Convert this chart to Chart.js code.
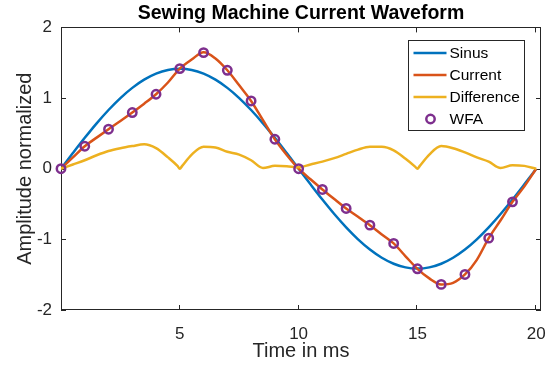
<!DOCTYPE html>
<html>
<head>
<title>Sewing Machine Current Waveform</title>
<script src="https://cdn.jsdelivr.net/npm/chart.js@4.4.0/dist/chart.umd.min.js"></script>
<style>
  html, body { margin: 0; padding: 0; background: #fff; }
</style>
</head>
<body>
<canvas id="waveChart" width="551" height="370"></canvas>
<script>
// time axis (ms), sampled every 0.5 ms
const timeMs = [0, 0.5, 1, 1.5, 2, 2.5, 3, 3.5, 4, 4.5, 5, 5.5, 6, 6.5, 7, 7.5, 8, 8.5, 9, 9.5,
                10, 10.5, 11, 11.5, 12, 12.5, 13, 13.5, 14, 14.5, 15, 15.5, 16, 16.5, 17, 17.5, 18, 18.5, 19, 19.5, 20];

const sinus = [0, 0.221, 0.437, 0.642, 0.831, 1.000, 1.144, 1.260, 1.345, 1.397, 1.414, 1.397, 1.345, 1.260, 1.144, 1.000, 0.831, 0.642, 0.437, 0.221,
               0, -0.221, -0.437, -0.642, -0.831, -1.000, -1.144, -1.260, -1.345, -1.397, -1.414, -1.397, -1.345, -1.260, -1.144, -1.000, -0.831, -0.642, -0.437, -0.221, 0];

const current = [0, 0.16, 0.318, 0.44, 0.559, 0.675, 0.795, 0.92, 1.054, 1.22, 1.417, 1.545, 1.648, 1.56, 1.393, 1.18, 0.959, 0.686, 0.417, 0.195,
                 0, -0.15, -0.294, -0.43, -0.563, -0.68, -0.799, -0.93, -1.058, -1.24, -1.417, -1.553, -1.638, -1.615, -1.497, -1.29, -0.983, -0.73, -0.469, -0.25, 0];

// difference curve, extra samples near the sharp minima
const diffTime = [0, 0.5, 1, 1.5, 2, 2.5, 3, 3.5, 4, 4.5, 4.9, 5, 5.1, 5.5, 6, 6.5, 7, 7.5, 8, 8.5, 9, 9.5,
                  10, 10.5, 11, 11.5, 12, 12.5, 13, 13.5, 14, 14.5, 14.9, 15, 15.1, 15.5, 16, 16.5, 17, 17.5, 18, 18.5, 19, 19.5, 20];
const difference = [0, 0.06, 0.12, 0.19, 0.25, 0.29, 0.32, 0.345, 0.29, 0.16, 0.04, 0, 0.04, 0.2, 0.31, 0.3, 0.24, 0.2, 0.12, 0.01, 0.04, 0.035,
                    0.02, 0.06, 0.1, 0.15, 0.21, 0.27, 0.31, 0.31, 0.26, 0.14, 0.03, 0, 0.04, 0.2, 0.32, 0.29, 0.23, 0.16, 0.1, 0.01, 0.05, 0.04, 0];

// WFA samples, one per ms
const wfaTime = [0, 1, 2, 3, 4, 5, 6, 7, 8, 9, 10, 11, 12, 13, 14, 15, 16, 17, 18, 19];
const wfa = [0, 0.318, 0.559, 0.795, 1.054, 1.417, 1.643, 1.393, 0.959, 0.417,
             0, -0.294, -0.563, -0.799, -1.058, -1.417, -1.638, -1.497, -0.983, -0.469];

const xTicks = [5, 10, 15, 20];
const yTicks = [-2, -1, 0, 1, 2];

const FONT = "'Liberation Sans', Arial, Helvetica, sans-serif";
const AXIS = '#262626';

function pts(xs, ys) {
    return xs.map((x, i) => ({ x: x, y: ys[i] }));
}

// box round the axes with inward tick marks on all four sides
const boxPlugin = {
    id: 'matlabBox',
    beforeDatasetsDraw(chart) {
        const { ctx, chartArea: a, scales } = chart;
        const tl = 5;
        ctx.save();
        ctx.strokeStyle = AXIS;
        ctx.lineWidth = 1;
        ctx.strokeRect(Math.round(a.left) + 0.5, Math.round(a.top) + 0.5,
                       Math.round(a.right) - Math.round(a.left) - 1, Math.round(a.bottom) - Math.round(a.top) - 1);
        ctx.beginPath();
        scales.x.ticks.forEach(t => {
            const px = Math.round(scales.x.getPixelForValue(t.value)) - 0.5;
            ctx.moveTo(px, a.bottom); ctx.lineTo(px, a.bottom - tl);
            ctx.moveTo(px, a.top); ctx.lineTo(px, a.top + tl);
        });
        scales.y.ticks.forEach(t => {
            const py = Math.round(scales.y.getPixelForValue(t.value)) + 0.5;
            ctx.moveTo(a.left, py); ctx.lineTo(a.left + tl, py);
            ctx.moveTo(a.right, py); ctx.lineTo(a.right - tl, py);
        });
        ctx.stroke();
        ctx.restore();
    }
};

// legend inside the plot, top right, with a frame
const legendPlugin = {
    id: 'insideLegend',
    afterDraw(chart) {
        const { ctx, chartArea: a } = chart;
        const w = 116, h = 90;
        const bx = Math.round(a.right) - 17 - w + 0.5;
        const by = Math.round(a.top) + 13 + 0.5;
        ctx.save();
        ctx.fillStyle = '#fff';
        ctx.fillRect(bx, by, w, h);
        ctx.strokeStyle = AXIS;
        ctx.lineWidth = 1;
        ctx.strokeRect(bx, by, w, h);
        ctx.font = '15.5px ' + FONT;
        ctx.textBaseline = 'middle';
        ctx.textAlign = 'left';
        chart.data.datasets.forEach((ds, i) => {
            const cy = by + 12.5 + i * 22;
            if (ds.showLine === false) {
                ctx.beginPath();
                ctx.arc(bx + 22, cy, ds.pointRadius, 0, Math.PI * 2);
                ctx.strokeStyle = ds.pointBorderColor;
                ctx.lineWidth = ds.pointBorderWidth;
                ctx.stroke();
            } else {
                ctx.beginPath();
                ctx.moveTo(bx + 5, cy);
                ctx.lineTo(bx + 38, cy);
                ctx.strokeStyle = ds.borderColor;
                ctx.lineWidth = ds.borderWidth;
                ctx.stroke();
            }
            ctx.fillStyle = '#000';
            ctx.fillText(ds.label, bx + 41, cy + 1);
        });
        ctx.restore();
    }
};

new Chart(document.getElementById('waveChart'), {
    type: 'line',
    data: {
        datasets: [{
            label: 'Sinus',
            data: pts(timeMs, sinus),
            borderColor: '#0072BD',
            borderWidth: 2.5,
            pointRadius: 0,
            cubicInterpolationMode: 'monotone',
            order: 4
        }, {
            label: 'Current',
            data: pts(timeMs, current),
            borderColor: '#D95319',
            borderWidth: 2.5,
            pointRadius: 0,
            cubicInterpolationMode: 'monotone',
            order: 3
        }, {
            label: 'Difference',
            data: pts(diffTime, difference),
            borderColor: '#EDB120',
            borderWidth: 2.5,
            pointRadius: 0,
            cubicInterpolationMode: 'monotone',
            order: 2
        }, {
            label: 'WFA',
            data: pts(wfaTime, wfa),
            showLine: false,
            pointStyle: 'circle',
            pointRadius: 4.2,
            pointBorderWidth: 2.5,
            pointBorderColor: '#7E2F8E',
            pointBackgroundColor: 'rgba(0,0,0,0)',
            clip: false,
            order: 1
        }]
    },
    options: {
        responsive: false,
        animation: false,
        devicePixelRatio: 1,
        layout: { padding: { top: 0, right: 10, bottom: 0, left: 0 } },
        plugins: {
            legend: { display: false },
            tooltip: { enabled: false },
            title: {
                display: true,
                fullSize: false,
                text: 'Sewing Machine Current Waveform',
                color: '#000',
                font: { family: FONT, size: 19.5, weight: 'bold' },
                padding: { top: 2, bottom: 2 }
            }
        },
        scales: {
            x: {
                type: 'linear',
                min: 0,
                max: 20.2,
                grid: { display: false, drawTicks: false },
                border: { display: false },
                ticks: { color: AXIS, font: { family: FONT, size: 17 }, padding: 14, maxRotation: 0 },
                title: { display: true, text: 'Time in ms', color: AXIS, font: { family: FONT, size: 20 }, padding: { top: 0, bottom: 7 } },
                afterBuildTicks: s => { s.ticks = xTicks.map(v => ({ value: v })); },
                afterFit: s => { s.height = 60; s.paddingLeft = 0; s.paddingRight = 0; }
            },
            y: {
                min: -2,
                max: 2,
                grid: { display: false, drawTicks: false },
                border: { display: false },
                ticks: { color: AXIS, font: { family: FONT, size: 17 }, padding: 9 },
                title: { display: true, text: 'Amplitude normalized', color: AXIS, font: { family: FONT, size: 20 }, padding: { top: 13, bottom: 0 } },
                afterBuildTicks: s => { s.ticks = yTicks.map(v => ({ value: v })); },
                afterFit: s => { s.width = 61; s.paddingTop = 0; s.paddingBottom = 0; }
            }
        }
    },
    plugins: [boxPlugin, legendPlugin]
});
</script>
</body>
</html>
